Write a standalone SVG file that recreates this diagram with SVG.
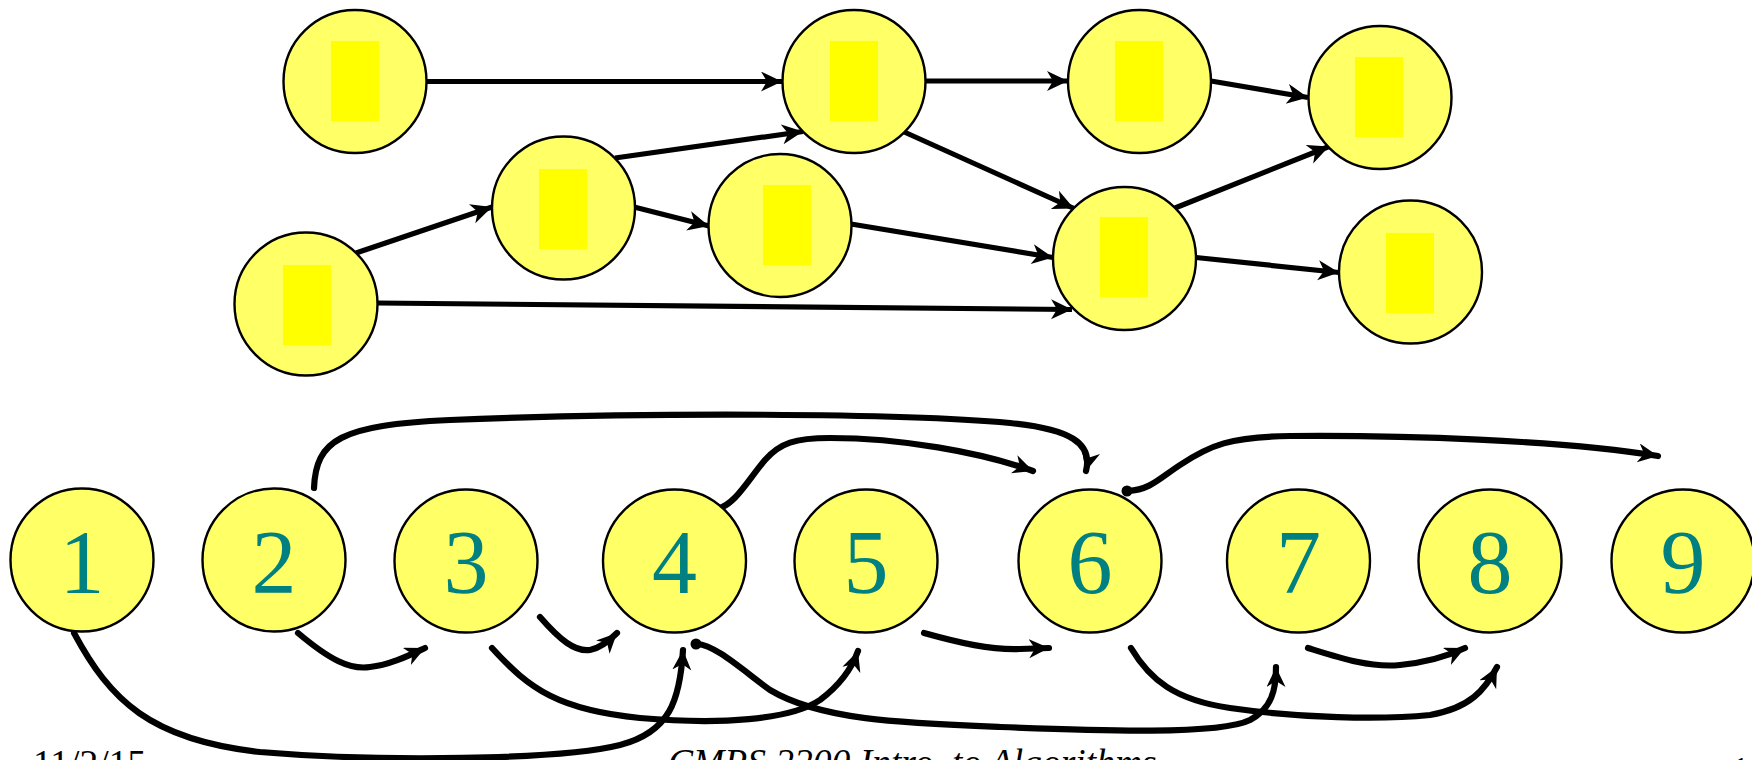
<svg xmlns="http://www.w3.org/2000/svg" width="1752" height="760" viewBox="0 0 1752 760">
<style>
.n{fill:#FFFF66;stroke:#000;stroke-width:2.4}
.r{fill:#FFFF00}
.e{fill:none;stroke:#000;stroke-width:5.2}
.c{fill:none;stroke:#000;stroke-width:6.2;stroke-linecap:round}
.d{font-family:"Liberation Serif","Times New Roman",serif;font-size:90px;fill:#008080;text-anchor:middle}
.f{font-family:"Liberation Serif","Times New Roman",serif;font-size:37.5px;fill:#000}
</style>
<defs>
<marker id="ah" markerUnits="userSpaceOnUse" markerWidth="26" markerHeight="24" refX="21" refY="10" orient="auto">
<path d="M0,0 L21,10 L0,20 L6,10 z" fill="#000"/>
</marker>
<marker id="ah2" markerUnits="userSpaceOnUse" markerWidth="26" markerHeight="24" refX="20" refY="9.5" orient="auto">
<path d="M0,0 L20,9.5 L0,19 L6,9.5 z" fill="#000"/>
</marker>
</defs>
<rect width="1752" height="760" fill="#fff"/>
<g id="connectors">
<line class="e" x1="427" y1="81.5" x2="782" y2="81.5" marker-end="url(#ah)"/>
<line class="e" x1="615" y1="158" x2="803" y2="131.5" marker-end="url(#ah)"/>
<line class="e" x1="356" y1="253" x2="492" y2="207" marker-end="url(#ah)"/>
<line class="e" x1="634" y1="207" x2="709" y2="226" marker-end="url(#ah)"/>
<line class="e" x1="851" y1="224" x2="1053" y2="257.5" marker-end="url(#ah)"/>
<line class="e" x1="377" y1="303" x2="1072" y2="309.5" marker-end="url(#ah)"/>
<line class="e" x1="902" y1="131" x2="1074" y2="208.5" marker-end="url(#ah)"/>
<line class="e" x1="925" y1="81" x2="1068" y2="81" marker-end="url(#ah)"/>
<line class="e" x1="1211" y1="81" x2="1308" y2="97.5" marker-end="url(#ah)"/>
<line class="e" x1="1175" y1="208" x2="1329" y2="146.5" marker-end="url(#ah)"/>
<line class="e" x1="1196" y1="257.5" x2="1339" y2="272.5" marker-end="url(#ah)"/>

<path class="c" d="M314,488 C316,440 340,425 450,420 C650,412 900,413 1010,423 C1070,429 1093,443 1086,471" marker-end="url(#ah2)"/>
<path class="c" d="M717,509 C735,505 748,480 765,460 C780,443 795,438 830,438 C900,438 980,452 1033,471" marker-end="url(#ah2)"/>
<circle cx="716" cy="509" r="5.5" fill="#000"/>
<path class="c" d="M1128,491 C1150,490 1160,478 1180,465 C1210,445 1230,437 1290,436 C1400,435 1560,440 1658,456" marker-end="url(#ah2)"/>
<circle cx="1127" cy="491" r="5.5" fill="#000"/>
<path class="c" d="M74,633 C110,700 150,740 260,752 C380,762 560,760 620,745 C670,732 680,700 683,650" marker-end="url(#ah2)"/>
<path class="c" d="M298,633 C330,660 350,670 370,667 C390,665 410,655 425,648" marker-end="url(#ah2)"/>
<path class="c" d="M540,617 C560,640 575,652 590,650 C600,648 610,640 617,633" marker-end="url(#ah2)"/>
<path class="c" d="M492,648 C530,690 560,710 640,718 C720,725 790,720 820,700 C840,685 852,668 858,651" marker-end="url(#ah2)"/>
<path class="c" d="M697,644 C715,645 740,668 770,690 C820,720 900,723 1000,727 C1100,731 1220,735 1250,720 C1272,708 1276,690 1276,667" marker-end="url(#ah2)"/>
<circle cx="696" cy="644" r="5.5" fill="#000"/>
<path class="c" d="M924,633 C960,643 990,650 1020,649 L1049,648" marker-end="url(#ah2)"/>
<path class="c" d="M1131,648 C1150,680 1175,700 1230,708 C1300,718 1380,720 1430,715 C1470,708 1485,690 1497,667" marker-end="url(#ah2)"/>
<path class="c" d="M1308,648 C1340,658 1370,668 1400,665 C1430,662 1450,655 1465,648" marker-end="url(#ah2)"/>
</g>
<g id="nA"><circle class="n" cx="355" cy="81.5" r="71.5"/><rect class="r" x="331" y="41" width="48" height="80"/></g>
<g id="nB"><circle class="n" cx="854" cy="81.5" r="71.5"/><rect class="r" x="830" y="41" width="48" height="80"/></g>
<g id="nC"><circle class="n" cx="1139.5" cy="81.5" r="71.5"/><rect class="r" x="1115" y="41" width="48" height="80"/></g>
<g id="nD"><circle class="n" cx="1380" cy="97.5" r="71.5"/><rect class="r" x="1355" y="57" width="48" height="80"/></g>
<g id="nE"><circle class="n" cx="1124.5" cy="258.5" r="71.5"/><rect class="r" x="1100" y="217" width="48" height="80"/></g>
<g id="nF"><circle class="n" cx="1410.5" cy="272" r="71.5"/><rect class="r" x="1386" y="233" width="48" height="80"/></g>
<g id="nG"><circle class="n" cx="563.5" cy="208" r="71.5"/><rect class="r" x="539" y="169" width="48" height="80"/></g>
<g id="nH"><circle class="n" cx="780" cy="225.5" r="71.5"/><rect class="r" x="763" y="185" width="48" height="80"/></g>
<g id="nI"><circle class="n" cx="306" cy="304" r="71.5"/><rect class="r" x="283" y="265" width="48" height="80"/></g>

<g id="n1"><circle class="n" cx="82" cy="560" r="71.5"/><text class="d" x="82" y="593">1</text></g>
<g id="n2"><circle class="n" cx="274" cy="560" r="71.5"/><text class="d" x="274" y="593">2</text></g>
<g id="n3"><circle class="n" cx="466" cy="561" r="71.5"/><text class="d" x="466" y="593">3</text></g>
<g id="n4"><circle class="n" cx="674.5" cy="561" r="71.5"/><text class="d" x="674.5" y="593">4</text></g>
<g id="n5"><circle class="n" cx="866" cy="561" r="71.5"/><text class="d" x="866" y="593">5</text></g>
<g id="n6"><circle class="n" cx="1090" cy="561" r="71.5"/><text class="d" x="1090" y="593">6</text></g>
<g id="n7"><circle class="n" cx="1298.5" cy="561" r="71.5"/><text class="d" x="1298.5" y="593">7</text></g>
<g id="n8"><circle class="n" cx="1490" cy="561" r="71.5"/><text class="d" x="1490" y="593">8</text></g>
<g id="n9"><circle class="n" cx="1683" cy="561" r="71.5"/><text class="d" x="1683" y="593">9</text></g>

<g id="footer">
<text class="f" x="33" y="776">11/2/15</text>
<text class="f" x="668" y="775" font-style="italic">CMPS 2200 Intro. to Algorithms</text>
<text class="f" x="1731" y="783">1</text>
</g>
</svg>
